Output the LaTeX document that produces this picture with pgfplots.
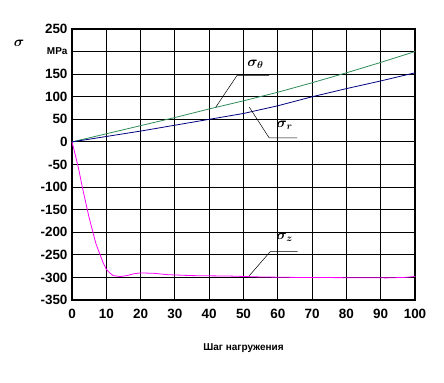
\documentclass[border=0pt]{standalone}
\usepackage{fontspec}
\setmainfont{Liberation Sans}
\usepackage{bm}
\usepackage{pgfplots}
\pgfplotsset{compat=1.18}
\definecolor{sgreen}{RGB}{46,139,87}
\definecolor{navyb}{RGB}{0,0,128}
\definecolor{magz}{RGB}{255,0,255}
\begin{document}
\begin{tikzpicture}
\useasboundingbox (0,0) rectangle (444bp,383bp);
\begin{axis}[
  at={(72bp,83bp)}, anchor=south west,
  scale only axis, width=343bp, height=271bp,
  xmin=0, xmax=100, ymin=-350, ymax=250,
  xtick={0,10,...,100},
  ytick={-350,-300,...,250},
  yticklabels={-350,-300,-250,-200,-150,-100,-50,0,50,100,150,{\fontsize{10}{10}\selectfont MPa},250},
  xticklabels={0,10,20,30,40,50,60,70,80,90,100},
  grid=major, major grid style={black, line width=1pt},
  axis line style={black, line width=1.5pt},
  major tick length=0pt,
  ticklabel style={font=\fontsize{13.5}{13.5}\selectfont\bfseries},
  xticklabel style={yshift=-6bp},
  yticklabel style={xshift=-1bp},
  xlabel={Шаг нагружения},
  xlabel style={font=\fontsize{10}{10}\selectfont\bfseries, at={(axis description cs:0.5,0)}, anchor=center, yshift=-48bp},
  clip=false,
]
\addplot[sgreen, line width=0.8pt] coordinates {(0,0)(10,18)(20,36)(30,54)(40,73)(50,91)(60,110)(70,131)(80,153)(90,176)(100,200)};
\addplot[navyb, line width=0.8pt] coordinates {(0,0)(10,12)(20,24)(30,37)(40,50)(50,63)(60,80)(70,100)(80,118)(90,135)(100,153)};
\addplot[magz, line width=0.8pt] coordinates {(0,0)(1,-30)(2,-62)(3,-100)(5,-168)(7,-226)(9,-266)(10,-282)(11,-290)(12,-296)(14,-298)(16,-296)(18,-292)(20,-290)(24,-291)(28,-294)(35,-296)(46,-297)(55,-299)(65,-300)(92,-301)(97,-300)(100,-298)};
% leaders
\draw[black, line width=0.5pt] (axis cs:41.9,76.8) -- (axis cs:48.1,147) -- (axis cs:57.5,147);
\draw[black, line width=0.5pt] (axis cs:51.7,76.8) -- (axis cs:57.5,8.8) -- (axis cs:65.6,8.8);
\draw[black, line width=0.5pt] (axis cs:51.7,-296) -- (axis cs:57.8,-243) -- (axis cs:65.8,-243);
\node[font=\fontsize{14}{14}\selectfont] at (axis cs:53.5,172) {$\bm{\sigma}_{\bm{\theta}}$};
\node[font=\fontsize{14}{14}\selectfont] at (axis cs:62,36) {$\bm{\sigma}_{\bm{r}}$};
\node[font=\fontsize{14}{14}\selectfont] at (axis cs:62,-212) {$\bm{\sigma}_{\bm{z}}$};
\end{axis}
\node[font=\fontsize{15}{15}\selectfont] at (19bp,340bp) {$\bm{\sigma}$};
\end{tikzpicture}
\end{document}
